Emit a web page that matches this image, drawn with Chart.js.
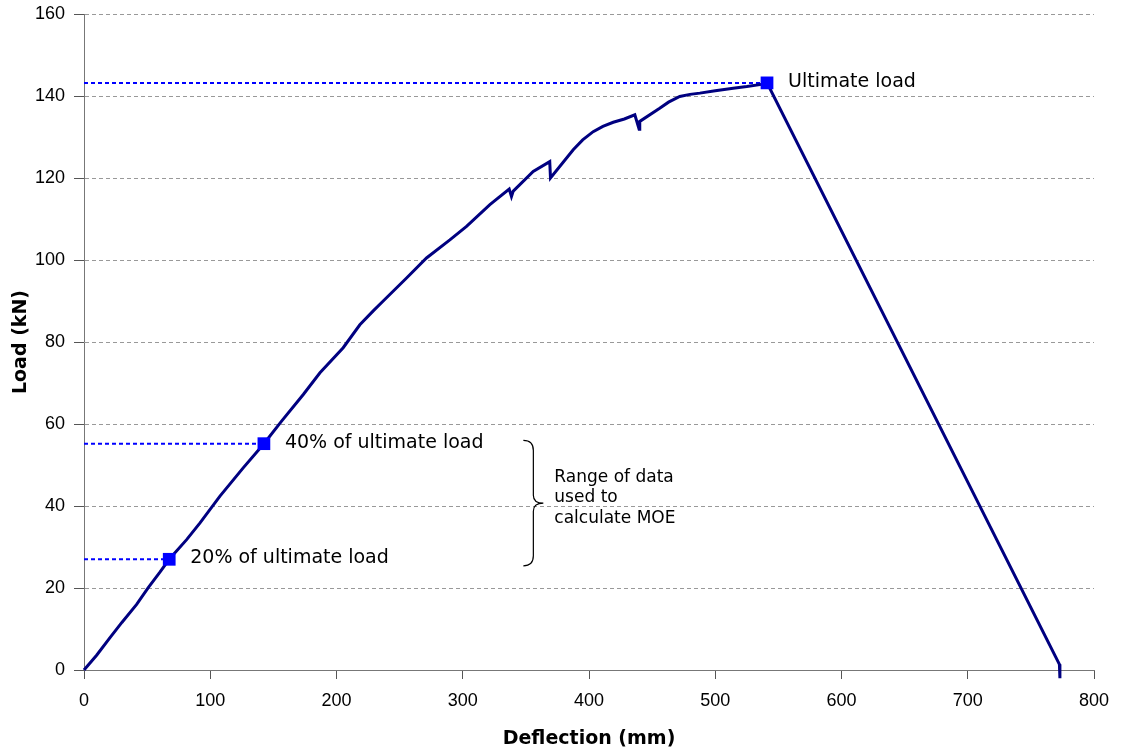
<!DOCTYPE html>
<html>
<head>
<meta charset="utf-8">
<script src="https://cdn.jsdelivr.net/npm/chart.js@4.4.0/dist/chart.umd.min.js"></script>
<style>
  html, body { margin: 0; padding: 0; background: #fff; }
  #wrap { width: 1127px; height: 751px; }
</style>
</head>
<body>
<div id="wrap"><canvas id="loadChart" width="1127" height="751"></canvas></div>
<script>
// load-deflection curve
const deflection = [0, 10, 20.6, 30, 41.7, 50.9, 60, 67.5, 81.3, 91.9, 107.7, 126.1, 142.5,
  156.5, 173.7, 186.9, 205.3, 218.5, 229.1, 237, 255.5, 271.3, 289.8, 303, 321.5, 336.8,
  338.6, 340, 355.8, 368.9, 369.5, 387.5, 395, 403.3, 411, 419.2, 428, 436.3, 439.7, 440.2,
  456, 463, 471.9, 480, 487.8, 500, 514.2, 525, 537.9, 541, 772.6, 773, 773];
const load = [0, 3.6, 7.9, 11.6, 16, 20.1, 23.8, 27, 31.8, 35.9, 42.4, 49.3, 55.2,
  60.7, 67.2, 72.5, 78.6, 84.2, 87.6, 90.0, 95.6, 100.5, 104.9, 108.2, 113.5, 117.3,
  115.5, 116.8, 121.6, 124.0, 120.0, 126.9, 129.3, 131.3, 132.6, 133.6, 134.4, 135.4, 131.9, 133.8,
  137.0, 138.5, 139.9, 140.4, 140.7, 141.3, 141.9, 142.3, 142.9, 143.2, 1.4, 0, -2];

// marked points
const markLabels = ["Ultimate load", "40% of ultimate load", "20% of ultimate load"];
const markX = [541, 142.5, 67.5];
const markY = [143.2, 55.2, 27.0];

// bracket for the MOE range
const braceLoad = [25.4, 56];
const braceDefl = 348;
const braceText = ["Range of data", "used to", "calculate MOE"];

const xTicks = [0, 100, 200, 300, 400, 500, 600, 700, 800];
const yTicks = [0, 20, 40, 60, 80, 100, 120, 140, 160];

const curve = deflection.map((d, i) => ({ x: d, y: load[i] }));
const marks = markX.map((d, i) => ({ x: d, y: markY[i] }));

const refLines = markX.map((d, i) => ({
  type: "line",
  data: [{ x: 0, y: markY[i] }, { x: d, y: markY[i] }],
  borderColor: "#0000ff",
  borderWidth: 2,
  borderDash: [4, 3],
  pointRadius: 0,
  order: 2,
}));

const annotations = {
  id: "annotations",
  afterDatasetsDraw(chart) {
    const ctx = chart.ctx;
    const xs = chart.scales.x;
    const ys = chart.scales.y;
    ctx.save();
    ctx.fillStyle = "#000";
    ctx.font = "19px 'DejaVu Sans', Verdana, sans-serif";
    ctx.textBaseline = "middle";
    ctx.textAlign = "left";
    markLabels.forEach((t, i) => {
      ctx.fillText(t, xs.getPixelForValue(markX[i]) + 21, ys.getPixelForValue(markY[i]) - 1);
    });

    // curly brace
    const bx = xs.getPixelForValue(braceDefl);
    const top = ys.getPixelForValue(braceLoad[1]);
    const bot = ys.getPixelForValue(braceLoad[0]);
    const mid = (top + bot) / 2;
    const w = 10;
    ctx.strokeStyle = "#000";
    ctx.lineWidth = 1.2;
    ctx.beginPath();
    ctx.moveTo(bx, top);
    ctx.quadraticCurveTo(bx + w, top, bx + w, top + 10);
    ctx.lineTo(bx + w, mid - 8);
    ctx.quadraticCurveTo(bx + w, mid, bx + w + 10, mid);
    ctx.quadraticCurveTo(bx + w, mid, bx + w, mid + 8);
    ctx.lineTo(bx + w, bot - 10);
    ctx.quadraticCurveTo(bx + w, bot, bx, bot);
    ctx.stroke();

    ctx.font = "17px 'DejaVu Sans', Verdana, sans-serif";
    braceText.forEach((t, i) => {
      ctx.fillText(t, bx + 31, mid - 26 + i * 20.5);
    });
    ctx.restore();
  },
};

new Chart(document.getElementById("loadChart"), {
  type: "line",
  data: {
    datasets: [
      {
        type: "scatter",
        data: marks,
        pointStyle: "rect",
        pointRadius: 9,
        pointHoverRadius: 9,
        backgroundColor: "#0000ff",
        borderColor: "#0000ff",
        borderWidth: 0,
        showLine: false,
        order: 0,
      },
      {
        data: curve,
        borderColor: "#000080",
        borderWidth: 3,
        pointRadius: 0,
        tension: 0,
        clip: false,
        order: 1,
      },
      ...refLines,
    ],
  },
  options: {
    responsive: false,
    animation: false,
    events: [],
    layout: { padding: { top: 14, right: 33, left: 0, bottom: 0 } },
    plugins: { legend: { display: false }, tooltip: { enabled: false } },
    scales: {
      x: {
        type: "linear",
        min: 0,
        max: 800,
        afterBuildTicks: (s) => { s.ticks = xTicks.map((v) => ({ value: v })); },
        afterFit: (s) => { s.height = 81; },
        border: { color: "#777", width: 1 },
        grid: { drawOnChartArea: false, drawTicks: true, tickLength: 9, tickColor: "#555", tickWidth: 1 },
        ticks: { color: "#000", padding: 11, font: { family: "'Liberation Sans', Arial, sans-serif", size: 18 } },
        title: {
          display: true,
          text: "Deflection (mm)",
          color: "#000",
          padding: { top: 0, bottom: 1 },
          font: { family: "'DejaVu Sans', Verdana, sans-serif", size: 19, weight: "bold", lineHeight: 1.2 },
        },
      },
      y: {
        type: "linear",
        min: 0,
        max: 160,
        afterBuildTicks: (s) => { s.ticks = yTicks.map((v) => ({ value: v })); },
        afterFit: (s) => { s.width = 84; s.paddingTop = 0; s.paddingBottom = 0; },
        border: { color: "#777", width: 1, dash: [4, 3] },
        grid: { color: "#999", tickLength: 10, tickColor: "#555", tickWidth: 1, tickBorderDash: [] },
        ticks: { color: "#000", padding: 9, font: { family: "'Liberation Sans', Arial, sans-serif", size: 18 } },
        title: {
          display: true,
          text: "Load (kN)",
          color: "#000",
          padding: { top: 10, bottom: 0 },
          font: { family: "'DejaVu Sans', Verdana, sans-serif", size: 19, weight: "bold", lineHeight: 1.2 },
        },
      },
    },
  },
  plugins: [annotations],
});
</script>
</body>
</html>
